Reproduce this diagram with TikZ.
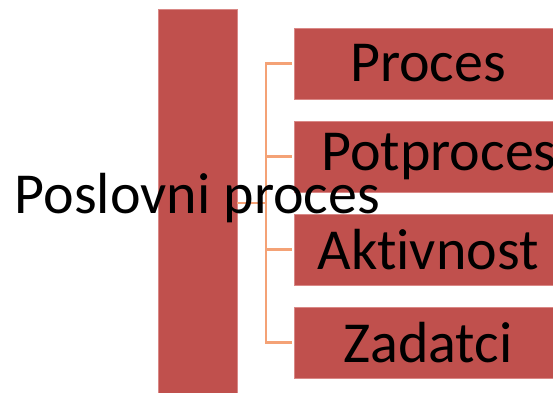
\documentclass[tikz,border=0pt]{standalone}
\usepackage{fontspec}
\setmainfont[Ligatures=NoCommon]{Carlito}
\definecolor{boxred}{HTML}{C0504D}
\definecolor{boxedge}{HTML}{D98886}
\definecolor{linkor}{HTML}{F4A276}
\begin{document}
\begin{tikzpicture}[x=1pt,y=-1pt,
  redbox/.style={fill=boxred,draw=boxedge,line width=0.6pt,inner sep=0pt},
  item/.style={redbox,minimum width=268pt,minimum height=71pt,font=\fontsize{58}{64}\selectfont},
  conn/.style={draw=linkor,line width=2.3pt}]
\useasboundingbox (0,0) rectangle (553,392);
\clip (0,0) rectangle (553,392);
\node[redbox,minimum width=79pt,minimum height=386pt] (main) at (197.5,202) {};
\node[item] (p1) at (428,63.5) {Proces};
\node[item] (p2) at (428,156.5) {\hspace*{22pt}Potproces};
\node[item] (p3) at (428,249.5) {Aktivnost};
\node[item] (p4) at (428,342.5) {Zadatci};
\coordinate (j) at (266,203);
\draw[conn] (main.east |- j) -- (j);
\draw[conn,shorten >=2pt] (j) |- (p1.west);
\draw[conn,shorten >=2pt] (j) |- (p2.west);
\draw[conn,shorten >=2pt] (j) |- (p3.west);
\draw[conn,shorten >=2pt] (j) |- (p4.west);
\node[anchor=base,inner sep=0pt,font=\fontsize{58}{64}\selectfont] (title) at (197.5,213) {Poslovni proces};
\end{tikzpicture}
\end{document}
